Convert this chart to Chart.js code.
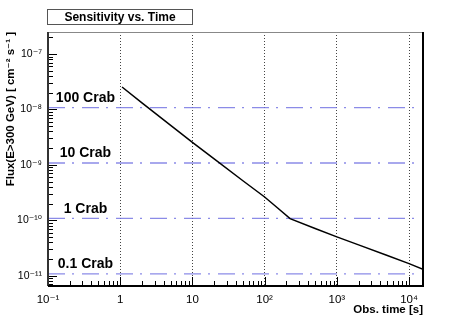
<!DOCTYPE html>
<html>
<head>
<meta charset="utf-8">
<script src="https://cdn.jsdelivr.net/npm/chart.js@4.4.0/dist/chart.umd.min.js"></script>
<style>
html,body{margin:0;padding:0;background:#fff;}
canvas{display:block;}
</style>
</head>
<body>
<canvas id="grafico" width="472" height="319"></canvas>
<script>
// values
const obsTime = [1.06, 2, 5, 10, 20, 50, 100, 150, 225, 500, 1000, 2000, 5000, 10000, 15600];
const sensFlux = [2.54e-8, 1.31e-8, 5.15e-9, 2.54e-9, 1.28e-9, 5.16e-10, 2.63e-10, 1.68e-10, 1.07e-10, 7.1e-11, 5.0e-11, 3.59e-11, 2.31e-11, 1.65e-11, 1.3e-11];
const crabNames = ['100 Crab', '10 Crab', '1 Crab', '0.1 Crab'];
const crabFlux = [1.08e-8, 1.08e-9, 1.08e-10, 1.08e-11];
const xTickVals = [0.1, 1, 10, 100, 1000, 10000];
const xTickLabels = ['10⁻¹', '1', '10', '10²', '10³', '10⁴'];
const yTickVals = [1e-11, 1e-10, 1e-9, 1e-8, 1e-7];
const yTickLabels = ['10⁻¹¹', '10⁻¹⁰', '10⁻⁹', '10⁻⁸', '10⁻⁷'];
const xMin = 0.1, xMax = 15600, yMin = 6.5e-12, yMax = 2.5e-7;

const FONT = "'Liberation Sans', 'DejaVu Sans', sans-serif";

const datasets = [{
  data: obsTime.map((t, i) => ({x: t, y: sensFlux[i]})),
  borderColor: '#000', borderWidth: 1.5, pointRadius: 0, tension: 0
}];
crabFlux.forEach(f => {
  datasets.push({
    data: [{x: xMin, y: f}, {x: xMax, y: f}],
    borderColor: 'rgba(110,110,225,0.8)', borderWidth: 1.3, pointRadius: 0,
    borderDash: [17, 7, 2, 8]
  });
});

// frame, inner ticks, title box and crab labels
const decoracao = {
  id: 'decoracao',
  afterDraw(chart){
    const {ctx, chartArea: a, scales: {x, y}} = chart;
    ctx.save();
    ctx.strokeStyle = '#000'; ctx.lineWidth = 1;
    for (let e = -1; e <= 4; e++) for (let m = 1; m <= 9; m++) {
      const v = m * Math.pow(10, e);
      if (v < xMin || v > xMax) continue;
      const px = Math.round(x.getPixelForValue(v)) + 0.5;
      const len = m === 1 ? 9 : 5;
      ctx.beginPath(); ctx.moveTo(px, a.bottom); ctx.lineTo(px, a.bottom - len); ctx.stroke();
    }
    for (let e = -12; e <= -7; e++) for (let m = 1; m <= 9; m++) {
      const v = m * Math.pow(10, e);
      if (v < yMin || v > yMax) continue;
      const py = Math.round(y.getPixelForValue(v)) + 0.5;
      const len = m === 1 ? 9 : 5;
      ctx.beginPath(); ctx.moveTo(a.left, py); ctx.lineTo(a.left + len, py); ctx.stroke();
    }
    // frame
    ctx.strokeStyle = '#888'; ctx.lineWidth = 1;
    ctx.beginPath(); ctx.moveTo(a.left, a.top + 0.5); ctx.lineTo(a.right, a.top + 0.5); ctx.stroke();
    ctx.strokeStyle = '#333'; ctx.lineWidth = 2;
    ctx.beginPath(); ctx.moveTo(a.left, a.top); ctx.lineTo(a.left, a.bottom); ctx.stroke();
    ctx.strokeStyle = '#000';
    ctx.beginPath(); ctx.moveTo(a.left, a.bottom); ctx.lineTo(a.right, a.bottom); ctx.lineTo(a.right, a.top); ctx.stroke();
    // crab labels
    ctx.fillStyle = '#000';
    ctx.font = 'bold 14px ' + FONT;
    ctx.textAlign = 'center'; ctx.textBaseline = 'middle';
    crabNames.forEach((n, i) => {
      ctx.fillText(n, x.getPixelForValue(0.33), y.getPixelForValue(crabFlux[i]) - 9.5);
    });
    // title box
    ctx.fillStyle = '#fff';
    ctx.fillRect(47.5, 9.5, 145, 15);
    ctx.strokeStyle = '#555'; ctx.lineWidth = 1;
    ctx.strokeRect(47.5, 9.5, 145, 15);
    ctx.fillStyle = '#000';
    ctx.font = 'bold 12px ' + FONT;
    ctx.fillText('Sensitivity vs. Time', 120, 17.5);
    ctx.restore();
  }
};

new Chart(document.getElementById('grafico').getContext('2d'), {
  type: 'line',
  data: {datasets},
  options: {
    responsive: false,
    animation: false,
    devicePixelRatio: 1,
    layout: {padding: {left: 0, right: 49, top: 32, bottom: 0}},
    plugins: {legend: {display: false}, tooltip: {enabled: false}},
    scales: {
      x: {
        type: 'logarithmic', min: xMin, max: xMax, bounds: 'data',
        afterFit: s => { s.height = 33; },
        afterBuildTicks: s => { s.ticks = xTickVals.map(v => ({value: v})); },
        grid: {drawTicks: false, color: '#444', lineWidth: 1},
        border: {display: false, dash: [1, 2]},
        ticks: {
          autoSkip: false, maxRotation: 0, padding: 7, color: '#000',
          font: {family: FONT, size: 11.5},
          callback: (v, i) => xTickLabels[i]
        },
        title: {display: true, text: 'Obs. time [s]', align: 'end', color: '#000',
          font: {family: FONT, size: 11.5, weight: 'bold'}, padding: {top: 0, bottom: 2}}
      },
      y: {
        type: 'logarithmic', min: yMin, max: yMax, bounds: 'data',
        afterFit: s => { s.width = 48; },
        afterBuildTicks: s => { s.ticks = yTickVals.map(v => ({value: v})); },
        grid: {display: false, drawTicks: false},
        border: {display: false},
        ticks: {
          autoSkip: false, padding: 6, color: '#000',
          font: {family: FONT, size: 10.5},
          callback: (v, i) => yTickLabels[i]
        },
        title: {display: true, text: 'Flux(E>300 GeV) [ cm⁻² s⁻¹ ]', align: 'end', color: '#000',
          font: {family: FONT, size: 11.5, weight: 'bold'}, padding: {top: 4, bottom: 0}}
      }
    }
  },
  plugins: [decoracao]
});
</script>
</body>
</html>
